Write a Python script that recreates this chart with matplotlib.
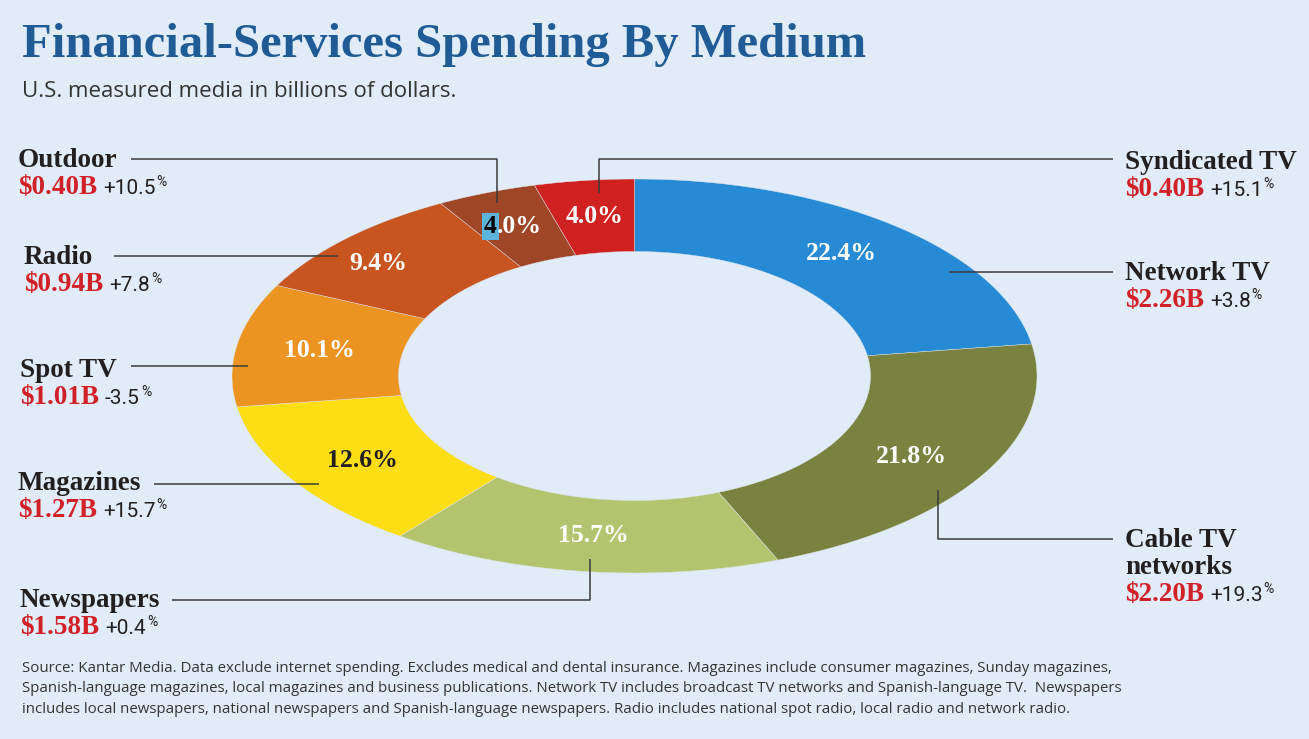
import numpy as np
import matplotlib.pyplot as plt

# spending by medium, clockwise from 12 o'clock
media = ['Network TV', 'Cable TV\nnetworks', 'Newspapers', 'Magazines',
         'Spot TV', 'Radio', 'Outdoor', 'Syndicated TV']
spend_b = [2.26, 2.20, 1.58, 1.27, 1.01, 0.94, 0.40, 0.40]
share_pct = [22.4, 21.8, 15.7, 12.6, 10.1, 9.4, 4.0, 4.0]
change_pct = ['+3.8', '+19.3', '+0.4', '+15.7', '-3.5', '+7.8', '+10.5', '+15.1']

colors = ['#268bd4', '#7a8240', '#b4c46e', '#fddd14',
          '#ec9422', '#c8541f', '#9f4626', '#cf2220']
pct_colors = ['white', 'white', 'white', '#231f20',
              'white', 'white', 'white', 'white']

BG = '#e2ecf8'
INK = '#231f20'
RED = '#d22027'
SERIF = ['Liberation Serif', 'DejaVu Serif']
NARROW = ['Roboto', 'DejaVu Sans']
SANS = ['Open Sans', 'DejaVu Sans']

# label anchors: (x, baseline of first line), leader line path
layout = {
    'Network TV': ((1125, 280), [(1113, 272), (949, 272)]),
    'Cable TV\nnetworks': ((1125, 547), [(1113, 539), (938, 539), (938, 490)]),
    'Newspapers': ((20, 607), [(172, 600), (590, 600), (590, 559)]),
    'Magazines': ((18, 490), [(154, 484), (319, 484)]),
    'Spot TV': ((20, 377), [(131, 366), (248, 366)]),
    'Radio': ((24, 264), [(114, 256), (338, 256)]),
    'Outdoor': ((18, 167), [(131, 159), (497, 159), (497, 203)]),
    'Syndicated TV': ((1125, 169), [(1113, 159), (599, 159), (599, 193)]),
}
nudge = {'Radio': (-28, 0), 'Outdoor': (-12, 0)}

W, H = 1309, 739
fig = plt.figure(figsize=(W / 100, H / 100), dpi=100, facecolor=BG)
ax = fig.add_axes([0, 0, 1, 1])
ax.set_xlim(0, W)
ax.set_ylim(H, 0)
ax.axis('off')
ax.set_facecolor(BG)

# elliptical ring
cx, cy = 634.5, 376
rx_out, ry_out = 402.5, 197
rx_in, ry_in = 236, 124.5

shares = np.array(share_pct) / sum(share_pct)
edges = np.concatenate([[0], np.cumsum(shares)]) * 2 * np.pi
fig.canvas.draw()
renderer = fig.canvas.get_renderer()

for i in range(len(media)):
    t = np.linspace(edges[i], edges[i + 1], 200)
    xs = np.concatenate([cx + rx_out * np.sin(t), cx + rx_in * np.sin(t[::-1])])
    ys = np.concatenate([cy - ry_out * np.cos(t), cy - ry_in * np.cos(t[::-1])])
    ax.fill(xs, ys, color=colors[i], ec='#dfe6ee', lw=0.3, zorder=2)

    tm = (edges[i] + edges[i + 1]) / 2
    lx = cx + (rx_out + rx_in) / 2 * np.sin(tm) + nudge.get(media[i], (0, 0))[0]
    ly = cy - (ry_out + ry_in) / 2 * np.cos(tm)
    lab = f'{share_pct[i]:.1f}%'
    if media[i] == 'Outdoor':
        # the highlighted "4" in the original artwork
        t4 = ax.text(lx - 21, ly, lab[0], color='black', fontsize=18.5,
                     fontweight='bold', family=SERIF, va='center', ha='left',
                     zorder=4, bbox=dict(boxstyle='square,pad=0.08', fc='#5ab4dc', ec='none'))
        w4 = t4.get_window_extent(renderer).width
        ax.text(lx - 21 + w4, ly, lab[1:], color='white', fontsize=18.5,
                fontweight='bold', family=SERIF, va='center', ha='left', zorder=4)
    else:
        ax.text(lx, ly, lab, color=pct_colors[i], fontsize=18.5, fontweight='bold',
                family=SERIF, va='center', ha='center', zorder=4)

for i, name in enumerate(media):
    (x, y), path = layout[name]
    px, py = zip(*path)
    ax.plot(px, py, color='#3a3a3a', lw=1.1, zorder=3, solid_capstyle='butt')
    lines = name.split('\n')
    for k, ln in enumerate(lines):
        ax.text(x, y + 27 * k, ln, color=INK, fontsize=19.5, fontweight='bold',
                family=SERIF, va='baseline', ha='left')
    vy = y + 27 * len(lines)
    t1 = ax.text(x, vy, f'${spend_b[i]:.2f}B', color=RED, fontsize=19.5,
                 fontweight='bold', family=SERIF, va='baseline', ha='left')
    x2 = x + t1.get_window_extent(renderer).width + 6
    t2 = ax.text(x2, vy, change_pct[i], color=INK, fontsize=15, stretch='condensed',
                 family=NARROW, va='baseline', ha='left')
    x3 = x2 + t2.get_window_extent(renderer).width + 1
    ax.text(x3, vy - 8, '%', color=INK, fontsize=10, family=NARROW,
            va='baseline', ha='left')

# titles
ax.text(22, 57, 'Financial-Services Spending By Medium', color='#1f5b94',
        fontsize=35, fontweight='bold', family=SERIF, va='baseline', ha='left')
ax.text(22, 97, 'U.S. measured media in billions of dollars.', color='#333333',
        fontsize=16, family=SANS, va='baseline', ha='left')

notes = [
    'Source: Kantar Media. Data exclude internet spending. Excludes medical and dental insurance. '
    'Magazines include consumer magazines, Sunday magazines,',
    'Spanish-language magazines, local magazines and business publications. Network TV includes '
    'broadcast TV networks and Spanish-language TV.  Newspapers',
    'includes local newspapers, national newspapers and Spanish-language newspapers. Radio includes '
    'national spot radio, local radio and network radio.',
]
for k, s in enumerate(notes):
    ax.text(22, 672 + 20.5 * k, s, color='#333333', fontsize=10.8, family=SANS,
            va='baseline', ha='left')

fig.savefig('out.png', dpi=100, facecolor=BG)
